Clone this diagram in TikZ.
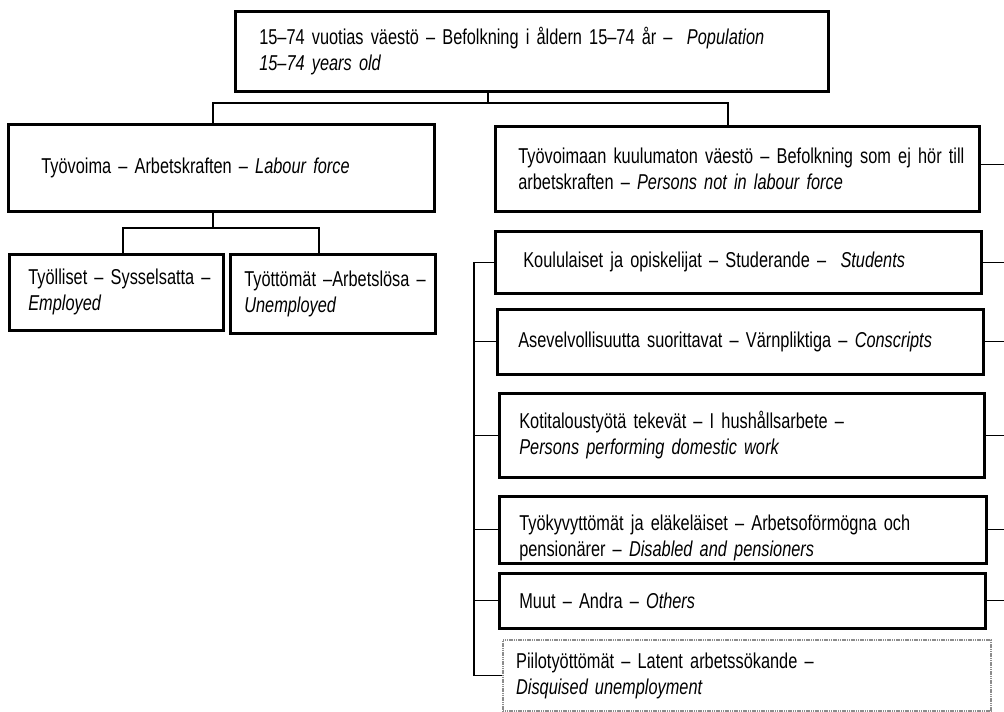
\documentclass[tikz,border=0pt]{standalone}
\usepackage{fontspec}
\setmainfont{Liberation Sans}[FakeStretch=0.76]
\newcommand\bxfont{\fontsize{21.5}{26}\selectfont}
\newcommand\oneline[1]{\mbox{#1}}
\begin{document}
\begin{tikzpicture}[x=1pt,y=-1pt,
  box/.style={draw, line width=2.6pt, rectangle, anchor=north west, align=left,
    inner ysep=0pt, font=\bxfont},
  latent/.style={box, draw=black!45, line width=2.2pt, dash pattern=on 1.2pt off 0.6pt},
  conn/.style={line width=1.3pt}]
\useasboundingbox[fill=white] (0,0) rectangle (1004,712);
% boxes
\node[box, minimum width=593pt, minimum height=80pt, inner xsep=24pt, text width=545pt] (top) at (234,10)
  {\oneline{15–74 vuotias väestö – Befolkning i åldern 15–74 år – \ \textit{Population}}\\\oneline{\textit{15–74 years old}}};
\node[box, minimum width=426pt, minimum height=87pt, inner xsep=33pt, text width=360pt] (tv) at (7,123)
  {\oneline{Työvoima – Arbetskraften – \textit{Labour force}}};
\node[box, minimum width=214pt, minimum height=76pt, inner xsep=19pt, text width=176pt] (emp) at (8,253)
  {\oneline{Työlliset – Sysselsatta –}\\\oneline{\textit{Employed}}};
\node[box, minimum width=205pt, minimum height=79pt, inner xsep=14pt, text width=177pt] (unemp) at (229,253)
  {\oneline{Työttömät –Arbetslösa –}\\\oneline{\textit{Unemployed}}};
\node[box, minimum width=484pt, minimum height=85pt, inner xsep=23pt, text width=438pt] (ntv) at (494,125)
  {\oneline{Työvoimaan kuulumaton väestö – Befolkning som ej hör till}\\\oneline{arbetskraften – \textit{Persons not in labour force}}};
\node[box, minimum width=486pt, minimum height=62pt, inner xsep=28pt, text width=430pt] (stu) at (494,230)
  {\oneline{Koululaiset ja opiskelijat – Studerande – \ \textit{Students}}};
\node[box, minimum width=486pt, minimum height=65pt, inner xsep=21pt, text width=444pt] (con) at (496,308)
  {\oneline{Asevelvollisuutta suorittavat – Värnpliktiga – \textit{Conscripts}}};
\node[box, minimum width=485pt, minimum height=84pt, inner xsep=20pt, text width=445pt] (koti) at (498,392)
  {\oneline{Kotitaloustyötä tekevät – I hushållsarbete –}\\\oneline{\textit{Persons performing domestic work}}};
\node[box, minimum width=487pt, minimum height=67pt, inner xsep=20pt, text width=447pt, text height=32pt] (tyk) at (498,495)
  {\oneline{Työkyvyttömät ja eläkeläiset – Arbetsoförmögna och}\\\oneline{pensionärer – \textit{Disabled and pensioners}}};
\node[box, minimum width=486pt, minimum height=55pt, inner xsep=20pt, text width=446pt] (muut) at (498,572)
  {\oneline{Muut – Andra – \textit{Others}}};
\node[latent, minimum width=488pt, minimum height=71pt, inner xsep=13pt, text width=462pt] (piilo) at (502,639)
  {\oneline{Piilotyöttömät – Latent arbetssökande –}\\\oneline{\textit{Disquised unemployment}}};
% junction coordinates
\coordinate (j1) at (488,103);
\coordinate (tvx) at (213,0);
\coordinate (ntvx) at (728,0);
\coordinate (j2) at (213,228);
\coordinate (ex) at (123,0);
\coordinate (ux) at (319,0);
\coordinate (bus) at (474,0);
\coordinate (redge) at (1004,0);
% top connectors
\draw[conn] (top.south -| j1) -- (j1);
\draw[conn] (tv.north -| tvx) |- (j1) -| (ntv.north -| ntvx);
\draw[conn] (tv.south -| j2) -- (j2);
\draw[conn] (emp.north -| ex) |- (j2) -| (unemp.north -| ux);
% left bus
\draw[conn] (stu.west -| bus) -- (piilo.west -| bus);
\foreach \n in {stu,con,koti,tyk,muut,piilo}
  \draw[conn] (\n.west) -- (\n.west -| bus);
% right stubs
\draw[conn] ([yshift=4pt]ntv.east) -- ([yshift=4pt]ntv.east -| redge);
\foreach \n in {stu,con,koti,tyk,muut}
  \draw[conn] (\n.east) -- (\n.east -| redge);
\end{tikzpicture}
\end{document}
